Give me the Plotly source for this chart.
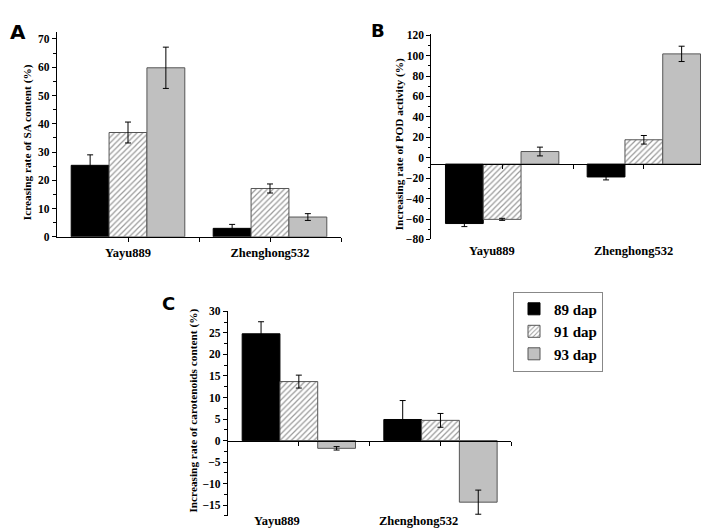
import plotly.graph_objects as go

# ---------------- data ----------------
categories = ["Yayu889", "Zhenghong532"]
series_names = ["89 dap", "91 dap", "93 dap"]

# A: increasing rate of SA content (%)
sa_89 = [25.3, 3.0]
sa_91 = [36.9, 17.1]
sa_93 = [59.8, 7.0]
sa_89_err = [3.7, 1.4]
sa_91_err = [3.7, 1.6]
sa_93_err = [7.3, 1.2]

# B: increasing rate of POD activity (%)
pod_89 = [-64.4, -18.8]
pod_91 = [-60.3, 17.6]
pod_93 = [6.1, 101.7]
pod_89_err = [3.0, 2.9]
pod_91_err = [1.0, 4.2]
pod_93_err = [4.3, 7.5]

# C: increasing rate of carotenoids content (%)
car_89 = [24.8, 4.9]
car_91 = [13.7, 4.7]
car_93 = [-1.8, -14.3]
car_89_err = [2.8, 4.4]
car_91_err = [1.5, 1.6]
car_93_err = [0.4, 2.8]

# ---------------- style ----------------
W, H = 709, 529
SERIF = "Liberation Serif, Times New Roman, Times, serif"
SANS = "DejaVu Sans, Arial, sans-serif"


def px_x(p):
    return p / W


def px_y(p):
    return 1 - p / H


styles = [
    dict(color="black", line=dict(color="black", width=1)),
    dict(color="white", line=dict(color="#555555", width=1),
         pattern=dict(shape="/", fgcolor="#333333", bgcolor="white", size=4, solidity=0.3)),
    dict(color="#c0c0c0", line=dict(color="#555555", width=1)),
]

pos = list(range(len(categories)))
fig = go.Figure()

POD_AXIS_LEVEL = -6.2  # level at which panel B's horizontal axis is drawn

panels = [
    ("x", "y", [sa_89, sa_91, sa_93], [sa_89_err, sa_91_err, sa_93_err], None),
    ("x2", "y2", [pod_89, pod_91, pod_93], [pod_89_err, pod_91_err, pod_93_err], POD_AXIS_LEVEL),
    ("x3", "y3", [car_89, car_91, car_93], [car_89_err, car_91_err, car_93_err], None),
]

for pi, (xa, ya, vals, errs, base) in enumerate(panels):
    for si in range(3):
        v = vals[si]
        if base is not None:
            yv = [val - base for val in v]
        else:
            yv = v
        fig.add_trace(go.Bar(
            x=pos, y=yv, base=base, name=series_names[si],
            xaxis=xa, yaxis=ya,
            marker=styles[si],
            error_y=dict(type="data", array=errs[si], color="black", thickness=1, width=3),
            showlegend=(pi == 2),
        ))

axis_common = dict(showline=True, linecolor="black", linewidth=1.2, ticks="outside",
                   tickcolor="black", tickwidth=1.2, showgrid=False, zeroline=False,
                   tickfont=dict(family=SERIF, size=11.5, color="black", weight="bold"))

x_common = dict(axis_common, range=[-0.5, 1.5], tickvals=[0, 0.5, 1, 1.5], ticklen=4)

# panel geometry (pixels)
A_dom_x = [px_x(49), px_x(333)]
A_dom_y = [px_y(228), px_y(18.3)]
B_dom_x = [px_x(423.3), px_x(706.7)]
B_dom_y = [px_y(230.7), px_y(20)]
C_dom_x = [px_x(220), px_x(503.3)]
C_dom_y = [px_y(513.6), px_y(304.3)]

A_range = [0, 72.5]
B_range = [-80, 121.6]
C_range = [-17.5, 30]


def level_pos(dom, rng, level):
    return dom[0] + (level - rng[0]) / (rng[1] - rng[0]) * (dom[1] - dom[0])


fig.update_layout(
    width=W, height=H,
    margin=dict(l=0, r=0, t=0, b=0),
    paper_bgcolor="white", plot_bgcolor="white",
    font=dict(family=SERIF, color="black", weight="bold"),
    barmode="group", bargap=0.2, bargroupgap=0,
    xaxis=dict(x_common, domain=A_dom_x, anchor="y",
               ticktext=[categories[0], "", categories[1], ""],
               tickfont=dict(family=SERIF, size=12.5, color="black", weight="bold")),
    yaxis=dict(axis_common, domain=A_dom_y, anchor="x", range=A_range,
               dtick=10, tick0=0, ticklen=4,
               minor=dict(dtick=5, tick0=0, ticks="outside", ticklen=2.5, tickcolor="black", tickwidth=1)),
    xaxis2=dict(x_common, domain=B_dom_x, anchor="free",
                position=level_pos(B_dom_y, B_range, POD_AXIS_LEVEL),
                showticklabels=False),
    yaxis2=dict(axis_common, domain=B_dom_y, anchor="x2", range=B_range,
                dtick=20, tick0=0, ticklen=4,
                minor=dict(dtick=10, tick0=0, ticks="outside", ticklen=2.5, tickcolor="black", tickwidth=1)),
    xaxis3=dict(x_common, domain=C_dom_x, anchor="free",
                position=level_pos(C_dom_y, C_range, 0),
                showticklabels=False),
    yaxis3=dict(axis_common, domain=C_dom_y, anchor="x3", range=C_range,
                dtick=5, tick0=0, ticklen=4,
                minor=dict(dtick=2.5, tick0=0, ticks="outside", ticklen=2.5, tickcolor="black", tickwidth=1)),
    legend=dict(x=px_x(505), y=px_y(284), xanchor="left", yanchor="top",
                bordercolor="#888888", borderwidth=1, bgcolor="white",
                font=dict(family=SERIF, size=15, color="black", weight="bold"),
                tracegroupgap=0, itemwidth=30, traceorder="normal"),
)

annotations = []
# panel letters
for letter, lx, ly, size in [("A", 0, 4, 20), ("B", 361, 4, 18), ("C", 152, 283, 18)]:
    annotations.append(dict(text=letter, x=px_x(lx), y=px_y(ly), xref="paper", yref="paper",
                            xanchor="left", yanchor="top", showarrow=False,
                            font=dict(family=SANS, size=size, color="black", weight="bold")))
# y-axis titles
for title, cx, cy in [("Icreasing rate of SA content (%)", 19.5, 131.7),
                      ("Increasing rate of POD activity (%)", 391, 133.3),
                      ("Increasing rate of carotenoids content (%)", 186, 405.8)]:
    annotations.append(dict(text=title, x=px_x(cx), y=px_y(cy), xref="paper", yref="paper",
                            xanchor="center", yanchor="middle", textangle=-90, showarrow=False,
                            font=dict(family=SERIF, size=11.3, color="black", weight="bold")))
# category labels for panels B and C (drawn at the bottom of the panels)
for xa, ybot, shift in [("x2", 252, -10), ("x3", 528, -22)]:
    for p, cat in zip(pos, categories):
        annotations.append(dict(text=cat, x=p, y=px_y(ybot), xref=xa, yref="paper",
                                xanchor="center", yanchor="bottom", xshift=shift, showarrow=False,
                                font=dict(family=SERIF, size=12.5, color="black", weight="bold")))
fig.update_layout(annotations=annotations)

fig.write_html("out.html")
